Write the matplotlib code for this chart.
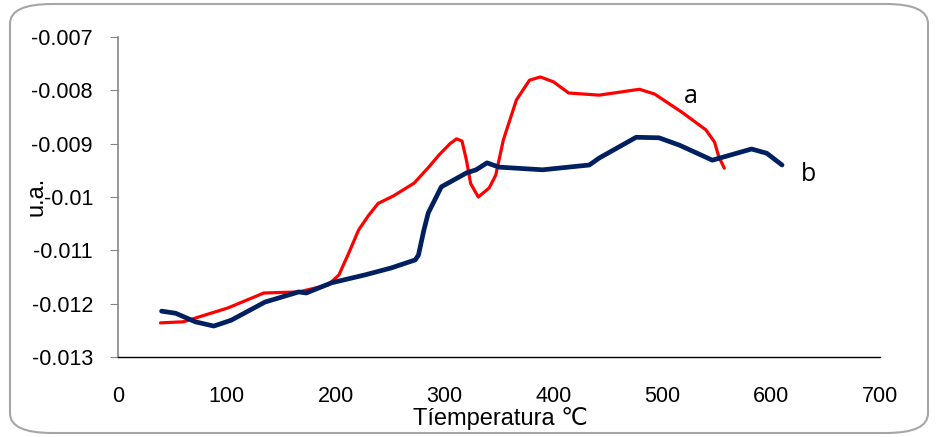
import matplotlib.pyplot as plt
from matplotlib.patches import FancyBboxPatch

plt.rcParams['font.family'] = ['Liberation Sans', 'DejaVu Sans']

# curve a (red)
temp_a = [39, 60, 101, 134, 166, 193, 203, 212, 221, 230, 239, 253, 272, 285,
          295, 305, 311, 316, 320, 324, 331, 341, 347, 354, 366, 378, 388,
          400, 414, 442, 479, 493, 518, 540, 548, 552, 557]
val_a = [-0.01236, -0.01234, -0.01208, -0.0118, -0.01178, -0.01165, -0.01146,
         -0.01105, -0.01062, -0.01035, -0.01012, -0.00998, -0.00974, -0.00945,
         -0.00921, -0.00900, -0.00891, -0.00895, -0.00930, -0.00975, -0.0100,
         -0.00983, -0.00959, -0.00893, -0.00818, -0.00781, -0.00775, -0.00784,
         -0.00805, -0.00809, -0.00798, -0.00807, -0.00841, -0.00874, -0.00897,
         -0.00925, -0.00946]

# curve b (dark blue)
temp_b = [40, 53, 71, 88, 104, 135, 166, 173, 196, 227, 251, 273, 276, 281,
          285, 297, 320, 329, 339, 350, 390, 433, 442, 476, 497, 516, 546,
          582, 596, 610]
val_b = [-0.01214, -0.01218, -0.01234, -0.01242, -0.01231, -0.01197, -0.01178,
         -0.0118, -0.01161, -0.01146, -0.01133, -0.01118, -0.01109, -0.01062,
         -0.0103, -0.00981, -0.00955, -0.00949, -0.00936, -0.00944, -0.00949,
         -0.0094, -0.00927, -0.00888, -0.00889, -0.00903, -0.00931, -0.0091,
         -0.00918, -0.00940]

xticks = [0, 100, 200, 300, 400, 500, 600, 700]
yticks = [-0.013, -0.012, -0.011, -0.01, -0.009, -0.008, -0.007]
ytick_labels = ['-0.013', '-0.012', '-0.011', '-0.01', '-0.009', '-0.008', '-0.007']

fig = plt.figure(figsize=(9.37, 4.37), dpi=100)
ax = fig.add_axes([118 / 937, 80 / 437, 762 / 937, 320 / 437])

# rounded chart frame
frame = FancyBboxPatch((10 / 937, 4 / 437), 918 / 937, 429 / 437,
                       boxstyle='round,pad=0,rounding_size=0.045',
                       transform=fig.transFigure, facecolor='white',
                       edgecolor='#a6a6a6', linewidth=1.5, zorder=-1)
fig.patches.append(frame)
ax.set_facecolor('none')

ax.plot(temp_a, val_a, color='#ff0000', linewidth=2.3, solid_capstyle='round')
ax.plot(temp_b, val_b, color='#002060', linewidth=3.4, solid_capstyle='round')

ax.set_xlim(0, 700)
ax.set_ylim(-0.013, -0.007)
ax.set_xticks(xticks)
ax.set_yticks(yticks)
ax.set_yticklabels(ytick_labels)
ax.tick_params(axis='x', length=0, labelsize=15.5, pad=21)
ax.tick_params(axis='y', length=6, color='#868686', labelsize=15.5, pad=12)

for s in ['top', 'right']:
    ax.spines[s].set_visible(False)
ax.spines['left'].set_color('#868686')
ax.spines['left'].set_linewidth(1.2)
ax.spines['bottom'].set_color('black')
ax.spines['bottom'].set_linewidth(1.0)

ax.text(520, -0.00812, 'a', fontsize=18, family=['Open Sans', 'DejaVu Sans'], va='center')
ax.text(627, -0.00958, 'b', fontsize=18, family=['Open Sans', 'DejaVu Sans'], va='center')

fig.text(36 / 937, 1 - 196 / 437, 'u.a.', rotation=90, fontsize=17, ha='center', va='center')
fig.text(500 / 937, 1 - 419 / 437, 'Tíemperatura ℃', fontsize=17, ha='center', va='center')

fig.savefig('out.png', dpi=100)
